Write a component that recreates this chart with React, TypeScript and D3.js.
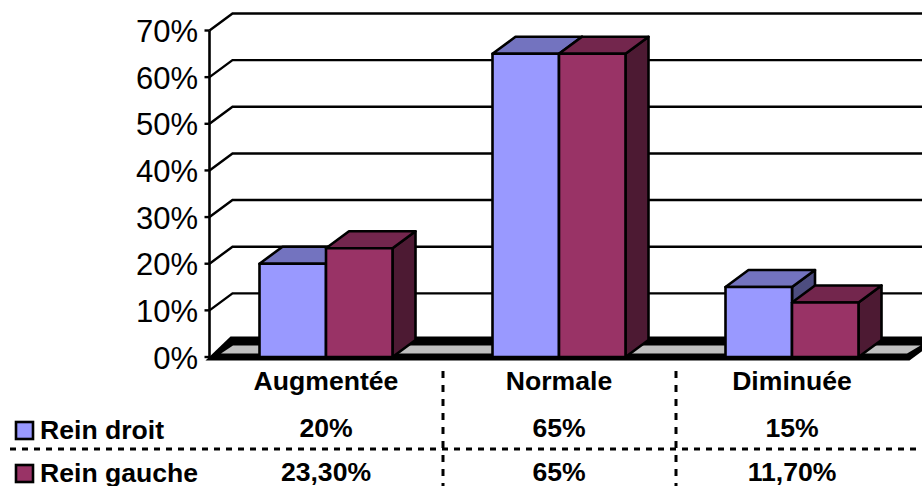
import React from "react";
import * as d3 from "d3";

// Share of patients per kidney-size category
const categories = ["Augmentée", "Normale", "Diminuée"];
const reinDroit = [20, 65, 15];
const reinGauche = [23.3, 65, 11.7];
const droitLabels = ["20%", "65%", "15%"];
const gaucheLabels = ["23,30%", "65%", "11,70%"];
const yTicks = [0, 10, 20, 30, 40, 50, 60, 70];

const W = 922;
const H = 486;
const FONT = "'Liberation Sans', Arial, sans-serif";
const DX = 23;
const DY = -17;
const plotLeft = 209.5;
const plotRight = 908.5;

const y = d3.scaleLinear().domain([0, 70]).range([357, 30.5]);
const x0 = d3.scaleBand<string>().domain(categories).range([plotLeft, plotRight]);
const barW = 66.5;

type Shade = { front: string; top: string; side: string };
const blue: Shade = { front: "#9999FF", top: "#7373BF", side: "#4D4D80" };
const red: Shade = { front: "#993366", top: "#73264D", side: "#4D1A33" };

const poly = (pts: [number, number][]) => d3.line()(pts) + "Z";

function Bar({ left, value, shade }: { left: number; value: number; shade: Shade }) {
  const t = y(value);
  const b = y(0);
  const r = left + barW;
  const common = { stroke: "#000", strokeWidth: 2.6, strokeLinejoin: "round" as const };
  return (
    <g>
      <path d={poly([[r, t], [r + DX, t + DY], [r + DX, b + DY], [r, b]])} fill={shade.side} {...common} />
      <path d={poly([[left, t], [left + DX, t + DY], [r + DX, t + DY], [r, t]])} fill={shade.top} {...common} />
      <rect x={left} y={t} width={barW} height={b - t} fill={shade.front} {...common} />
    </g>
  );
}

export default function App() {
  const floorY = y(0);
  const bold = { fontFamily: FONT, fontWeight: 700, fontSize: 26.6, fill: "#000", textAnchor: "middle" as const };
  const separators = x0.domain().slice(1).map((c) => x0(c)! - 0.5);
  return (
    <svg width={W} height={H} viewBox={`0 0 ${W} ${H}`} style={{ position: "absolute", left: 0, top: 0, background: "#fff" }}>
      {/* back wall gridlines with their slanted side-wall segment */}
      {yTicks.slice(1).map((t) => (
        <path
          key={t}
          d={d3.line()([[plotLeft, y(t)], [plotLeft + DX, y(t) + DY], [W, y(t) + DY]])!}
          fill="none"
          stroke="#000"
          strokeWidth={2.4}
        />
      ))}

      {/* floor slab */}
      <path
        d={poly([[plotLeft - 4, floorY + 3.5], [plotLeft + DX - 2, floorY + DY - 3.5], [W + 20, floorY + DY - 3.5], [plotRight + 1, floorY + 3.5]])}
        fill="#000"
      />
      <path
        d={poly([[221, 353.5], [233, 345.5], [920.5, 345.5], [907, 353.5]])}
        fill="#C0C0C0"
      />

      {/* value axis */}
      <line x1={plotLeft} x2={plotLeft} y1={y(70)} y2={floorY} stroke="#000" strokeWidth={2.6} />
      {yTicks.map((t) => (
        <g key={t}>
          <line x1={plotLeft - 5} x2={plotLeft} y1={y(t)} y2={y(t)} stroke="#000" strokeWidth={2.4} />
          <text x={198} y={y(t) + 11.5} textAnchor="end" fontFamily={FONT} fontSize={31} fill="#000">
            {t}%
          </text>
        </g>
      ))}

      {/* paired 3D columns */}
      {categories.map((c, i) => {
        const mid = x0(c)! + x0.bandwidth() / 2;
        return (
          <g key={c}>
            <Bar left={mid - barW} value={reinDroit[i]} shade={blue} />
            <Bar left={mid} value={reinGauche[i]} shade={red} />
          </g>
        );
      })}

      {/* data table under the plot */}
      <line x1={10} x2={W} y1={449} y2={449} stroke="#000" strokeWidth={3} strokeDasharray="6 6" />
      {separators.map((sx) => (
        <line key={sx} x1={sx + 1} x2={sx + 1} y1={371} y2={H} stroke="#000" strokeWidth={3} strokeDasharray="7 7" />
      ))}
      {categories.map((c, i) => {
        const mid = x0(c)! + x0.bandwidth() / 2;
        return (
          <g key={c}>
            <text x={mid} y={390} {...bold}>{c}</text>
            <text x={mid} y={437} {...bold}>{droitLabels[i]}</text>
            <text x={mid} y={481} {...bold}>{gaucheLabels[i]}</text>
          </g>
        );
      })}

      {/* legend keys */}
      <rect x={16} y={422} width={17} height={17} fill={blue.front} stroke="#000" strokeWidth={2.6} />
      <text x={40} y={439} {...bold} textAnchor="start">Rein droit</text>
      <rect x={16} y={465} width={17} height={17} fill={red.front} stroke="#000" strokeWidth={2.6} />
      <text x={40} y={482} {...bold} textAnchor="start">Rein gauche</text>
    </svg>
  );
}
